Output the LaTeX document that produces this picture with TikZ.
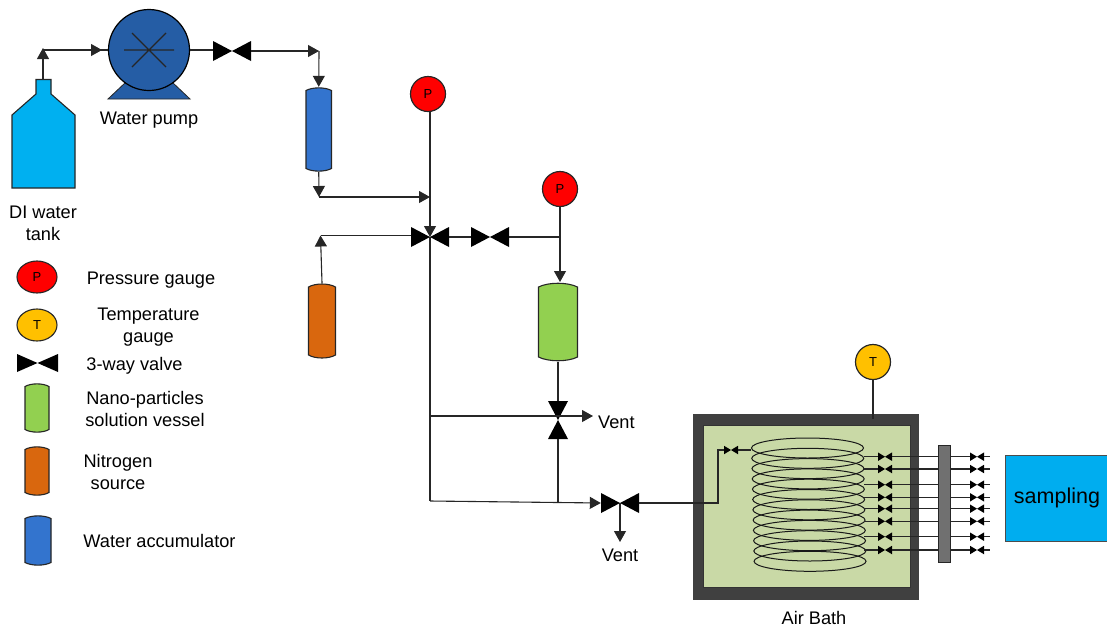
\documentclass[tikz,border=0pt]{standalone}
\usepackage{fontspec}
\setmainfont{Liberation Sans}
\usetikzlibrary{arrows.meta, shapes.geometric}
\definecolor{cTank}{RGB}{0,176,240}
\definecolor{cPump}{RGB}{37,93,165}
\definecolor{cBlue}{RGB}{51,116,206}
\definecolor{cOrange}{RGB}{217,103,14}
\definecolor{cGreen}{RGB}{146,208,80}
\definecolor{cRed}{RGB}{255,0,0}
\definecolor{cGold}{RGB}{255,192,0}
\definecolor{cBath}{RGB}{201,217,166}
\definecolor{cWall}{RGB}{64,64,64}
\definecolor{cHeader}{RGB}{112,112,112}
\definecolor{cSample}{RGB}{0,173,239}
\tikzset{
	pipe/.style={line width=1.1pt, draw=black!85},
	flow/.style={pipe, -{Triangle[length=11pt,width=12pt]}},
	txt/.style={font=\fontsize{18.2}{22}\selectfont, align=center, inner sep=0pt},
	gauge/.style={draw=black!85, line width=1.2pt, circle, minimum size=35pt, inner sep=0pt, font=\fontsize{13}{15}\selectfont},
	keygauge/.style={draw=black!85, line width=1.1pt, ellipse, minimum width=40pt, minimum height=32pt, inner sep=0pt, font=\fontsize{13}{15}\selectfont},
	valve/.style={inner sep=0pt, minimum width=38pt, minimum height=20pt, path picture={\fill[black] (path picture bounding box.north west) -- (path picture bounding box.south east) -- (path picture bounding box.north east) -- (path picture bounding box.south west) -- cycle;}},
	valve up/.style={inner sep=0pt, minimum width=20pt, minimum height=38pt, path picture={\fill[black] (path picture bounding box.north west) -- (path picture bounding box.north east) -- (path picture bounding box.south west) -- (path picture bounding box.south east) -- cycle;}},
	tiny valve/.style={valve, minimum width=14pt, minimum height=8.5pt},
}
% left x, top y, width, height, dome, colour, name
\newcommand{\vessel}[7]{
	\path[draw=black!85, line width=1.1pt, fill=#6] (#1,#2+#5) .. controls (#1+#3*0.25,#2) and (#1+#3*0.75,#2) .. (#1+#3,#2+#5) -- (#1+#3,#2+#4-#5) .. controls (#1+#3*0.75,#2+#4) and (#1+#3*0.25,#2+#4) .. (#1,#2+#4-#5) -- cycle;
	\node[inner sep=0pt, minimum width=#3pt, minimum height=#4pt] (#7) at (#1+#3/2,#2+#4/2) {};
}
\begin{document}
\begin{tikzpicture}[x=1pt, y=-1pt]
	\useasboundingbox (0,0) rectangle (1107,627);

	\path[draw=black!85, line width=1.1pt, fill=cTank] (12,188) -- (12,115) -- (36,94) -- (36,79.5) -- (51,79.5) -- (51,94) -- (75,115) -- (75,188) -- cycle;
	\coordinate (tank) at (43,79.5);
	\coordinate (tankup) at (43,48);
	\node[txt] (tanktext) at (43,223) {DI water\\tank};

	\path[draw=black!85, fill=cPump, line width=0.8pt] (108,99) -- (126,82) -- (172,82) -- (190,99) -- cycle;
	\node[circle, draw=black, line width=1.2pt, fill=cPump, minimum size=81pt, inner sep=0pt] (pump) at (149,50) {};
	\draw[pipe] (124,50) -- (174,50) (132,33) -- (166,67) (166,33) -- (132,67);
	\node[txt] (pumptext) at (149,120.5) {Water pump};

	\node[valve] (v1) at (232,51) {};
	\coordinate (top) at (319,51);
	\draw[flow] (tank) -- (tankup);
	\draw[pipe] (43,50) -- (pump.west);
	\draw[flow] (43,50) -- (102,50);
	\draw[pipe] (pump.east) -- (pump.east -| v1.west);
	\draw[flow] (v1.east) -- (top);
	\vessel{306}{87}{25.5}{85}{3.5}{cBlue}{acc}
	\draw[flow] (top) -- (acc.north);
	\coordinate (acclow) at (319,197);
	\coordinate (mainin) at (430,197);
	\draw[flow] (acc.south) -- (acclow);
	\draw[flow] (acclow) -- (mainin);

	\node[gauge, fill=cRed] (p1) at (428,94) {P};
	\node[valve] (v2) at (430,237) {};
	\node[valve] (v3) at (490,237) {};
	\node[gauge, fill=cRed] (p2) at (560,189) {P};
	\coordinate (tee) at (560,237);
	\vessel{308.5}{283}{27}{76}{4}{cOrange}{nit}
	\coordinate (nitup) at (320.5,235.5);
	\draw[flow] (nit.north) -- (nitup);
	\draw[pipe] (nitup) -- (nitup -| v2.west);
	\draw[flow] (p1.south -| v2) -- (v2.center);
	\draw[pipe] (v2.east) -- (v3.west);
	\draw[pipe] (v3.east) -- (tee);
	\vessel{538.5}{282}{39}{80}{5}{cGreen}{sol}
	\draw[pipe] (p2.south) -- (tee);
	\draw[flow] (tee) -- (560,282);

	\node[valve up] (v5) at (558,420) {};
	\node[valve] (v4) at (620,503) {};
	\coordinate (low) at (430,501);
	\coordinate (mid) at (430,416);
	\coordinate (lowjoin) at (558,503);
	\node[txt, anchor=west] (ventup) at (598,422) {Vent};
	\node[txt] (ventlow) at (620,555) {Vent};
	\draw[pipe] (sol.south) -- (v5.north);
	\draw[pipe] (v2.center) -- (low);
	\draw[pipe] (mid) -- (558,416);
	\draw[flow] (558,416) -- (593,416);
	\draw[flow] (low) -- (v4.west);
	\draw[pipe] (lowjoin) -- (v5.south);
	\draw[flow] (v4.center) -- (620,542);

	\node[draw=cWall, line width=0.8pt, fill=cWall, minimum width=225pt, minimum height=185pt, inner sep=0pt] (bath) at (805.5,506.5) {};
	\node[draw=black!80, line width=0.8pt, fill=cBath, minimum width=207pt, minimum height=162pt, inner sep=0pt] (bathin) at (807,506.5) {};
	\node[txt] (bathtext) at (814,618) {Air Bath};
	\node[gauge, fill=cGold] (t1) at (873,362) {T};
	\coordinate (tend) at (873,419);
	\draw[pipe] (t1.south) -- (tend);

	\foreach \i in {0,...,11}
	\draw[line width=1pt, black!90] ({807.5+\i*0.23},{448+\i*10.3}) ellipse (56 and 10);

	\node[tiny valve] (vin) at (731,450) {};
	\coordinate (coilin) at (751,450);
	\coordinate (bend) at (718,503);
	\draw[pipe] (v4.east) -- (bend) -- (bend |- vin) -- (vin.west);
	\draw[pipe] (vin.east) -- (coilin);

	\node[draw=black!85, line width=0.8pt, fill=cHeader, minimum width=12pt, minimum height=117pt, inner sep=0pt] (header) at (944,503.5) {};
	\foreach \y [count=\i] in {456.7,469,484.7,497.3,508.7,521.3,536.7,550}
	{
		\node[tiny valve] (a\i) at (885,\y) {};
		\node[tiny valve] (b\i) at (977,\y) {};
		\coordinate (c\i) at (864,\y);
		\coordinate (d\i) at (990,\y);
		\draw[pipe] (c\i) -- (a\i.west);
		\draw[pipe] (b\i.east) -- (d\i);
		\draw[pipe] (a\i.east) -- (header.west |- a\i);
		\draw[pipe] (header.east |- b\i) -- (b\i.west);
	}

	\node[draw=black!70, line width=0.6pt, fill=cSample, minimum width=102pt, minimum height=86pt, inner sep=0pt] (sample) at (1056.5,498.7) {};
	\node[inner sep=0pt, font=\fontsize{21.5}{25}\selectfont] (sampletext) at (1057,498) {sampling};

	\node[keygauge, fill=cRed] (lp) at (37,277) {P};
	\node[keygauge, fill=cGold] (lt) at (37,325) {T};
	\node[valve, minimum width=41pt, minimum height=18pt] (lv) at (37.5,363) {};
	\vessel{25}{383}{24}{50}{3.5}{cGreen}{lg}
	\vessel{25}{446}{24}{50}{3.5}{cOrange}{lo}
	\vessel{25}{515}{26}{51}{3.5}{cBlue}{lb}
	\node[txt] (ltxtp) at (151,280.5) {Pressure gauge};
	\node[txt] (ltxtt) at (148.5,327.5) {Temperature\\gauge};
	\node[txt] (ltxtv) at (134.5,365.5) {3-way valve};
	\node[txt] (ltxtg) at (145,408.5) {Nano-particles\\solution vessel};
	\node[txt] (ltxto) at (118,471.5) {Nitrogen\\source};
	\node[txt] (ltxtb) at (159.5,540.5) {Water accumulator};
\end{tikzpicture}
\end{document}
